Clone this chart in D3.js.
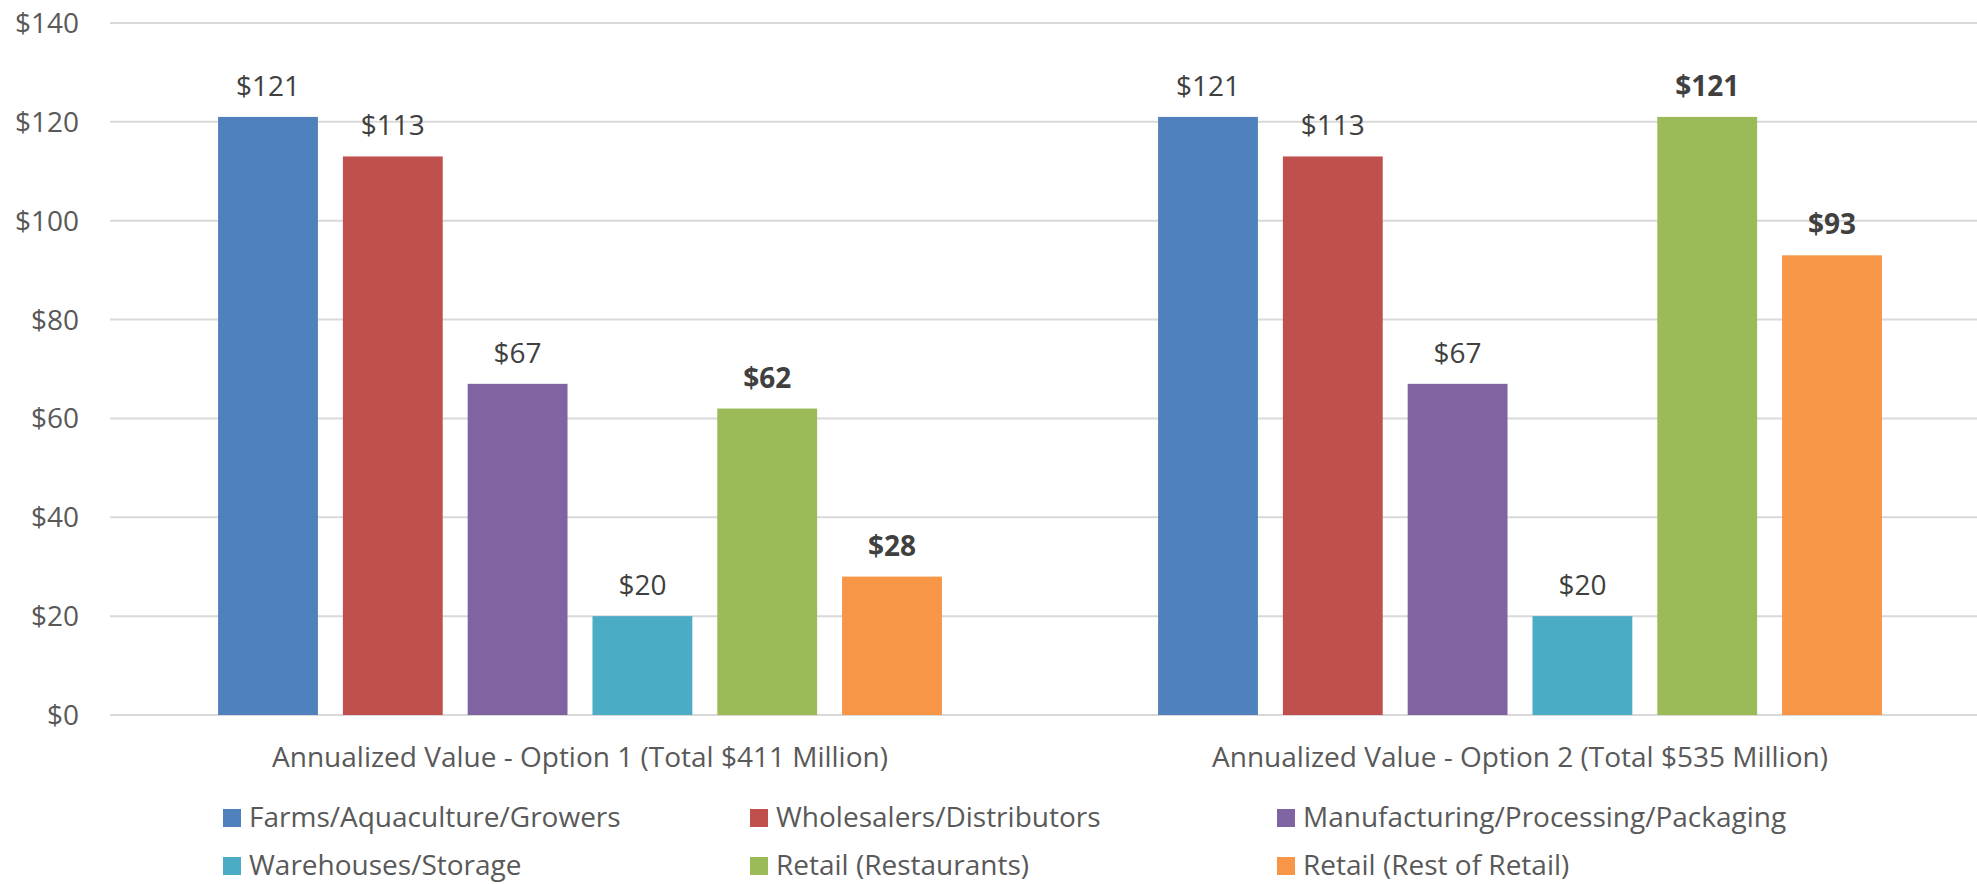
<!DOCTYPE html>
<html>
<head>
<meta charset="utf-8">
<script src="https://cdn.jsdelivr.net/npm/d3@7"></script>
<style>
  body { margin: 0; background: #fff; }
  svg text { font-family: "Open Sans", "Noto Sans", sans-serif; }
</style>
</head>
<body>
<svg id="chart" width="1977" height="884"></svg>
<script>
// chart data
var groups = ["Annualized Value - Option 1 (Total $411 Million)", "Annualized Value - Option 2 (Total $535 Million)"];
var series = ["Farms/Aquaculture/Growers", "Wholesalers/Distributors", "Manufacturing/Processing/Packaging",
  "Warehouses/Storage", "Retail (Restaurants)", "Retail (Rest of Retail)"];
var option1 = [121, 113, 67, 20, 62, 28];
var option2 = [121, 113, 67, 20, 121, 93];
var yTicks = [0, 20, 40, 60, 80, 100, 120, 140];
var colors = ["#4F81BD", "#C0504D", "#8064A2", "#4BACC6", "#9BBB59", "#F79646"];
var boldSeries = ["Retail (Restaurants)", "Retail (Rest of Retail)"];

var values = [option1, option2];
var svg = d3.select("#chart");
var fontSize = "28px";

var x0 = d3.scaleBand().domain(groups).range([110, 1990]);
var x1 = d3.scaleBand().domain(series).range([0, x0.bandwidth()])
  .paddingInner(0.2).paddingOuter(0.866);
var y = d3.scaleLinear().domain([0, 140]).range([715, 23]);
var color = d3.scaleOrdinal().domain(series).range(colors);

// gridlines + y labels
var yAxis = svg.append("g").attr("class", "y-axis");
yAxis.selectAll("line")
  .data(yTicks)
  .enter()
  .append("line")
  .attr("x1", 110)
  .attr("x2", 1977)
  .attr("y1", function(d) { return y(d); })
  .attr("y2", function(d) { return y(d); })
  .style("stroke", "#D9D9D9")
  .style("stroke-width", 2);

yAxis.selectAll("text")
  .data(yTicks)
  .enter()
  .append("text")
  .attr("x", 79)
  .attr("y", function(d) { return y(d) + 10; })
  .attr("text-anchor", "end")
  .style("font-size", fontSize)
  .style("fill", "#595959")
  .text(function(d) { return "$" + d; });

// bars
var group = svg.selectAll(".group")
  .data(groups)
  .enter()
  .append("g")
  .attr("class", "group")
  .attr("transform", function(d) { return "translate(" + x0(d) + ",0)"; });

group.selectAll("rect")
  .data(function(d, i) {
    return series.map(function(s, j) { return { key: s, value: values[i][j] }; });
  })
  .enter()
  .append("rect")
  .attr("x", function(d) { return x1(d.key); })
  .attr("y", function(d) { return y(d.value); })
  .attr("width", x1.bandwidth())
  .attr("height", function(d) { return y(0) - y(d.value); })
  .style("fill", function(d) { return color(d.key); });

// data labels
group.selectAll(".label")
  .data(function(d, i) {
    return series.map(function(s, j) { return { key: s, value: values[i][j] }; });
  })
  .enter()
  .append("text")
  .attr("class", "label")
  .attr("x", function(d) { return x1(d.key) + x1.bandwidth() / 2; })
  .attr("y", function(d) { return y(d.value) - 21; })
  .attr("text-anchor", "middle")
  .style("font-size", fontSize)
  .style("fill", "#404040")
  .style("font-weight", function(d) { return boldSeries.indexOf(d.key) >= 0 ? "bold" : "normal"; })
  .text(function(d) { return "$" + d.value; });

// category labels
svg.selectAll(".cat")
  .data(groups)
  .enter()
  .append("text")
  .attr("class", "cat")
  .attr("x", function(d) { return x0(d) + x0.bandwidth() / 2; })
  .attr("y", 767)
  .attr("text-anchor", "middle")
  .style("font-size", fontSize)
  .style("fill", "#595959")
  .text(function(d) { return d; });

// legend, 3 per row (second row nudged up so descenders stay inside)
var legend = svg.selectAll(".legend")
  .data(series)
  .enter()
  .append("g")
  .attr("class", "legend")
  .attr("transform", function(d, i) {
    return "translate(" + (223 + (i % 3) * 527) + "," + (818 + Math.floor(i / 3) * 48) + ")";
  });

legend.append("rect")
  .attr("x", 0)
  .attr("y", -9)
  .attr("width", 18)
  .attr("height", 18)
  .style("fill", function(d) { return color(d); });

legend.append("text")
  .attr("x", 26)
  .attr("y", 9)
  .style("font-size", fontSize)
  .style("fill", "#595959")
  .text(function(d) { return d; });
</script>
</body>
</html>
